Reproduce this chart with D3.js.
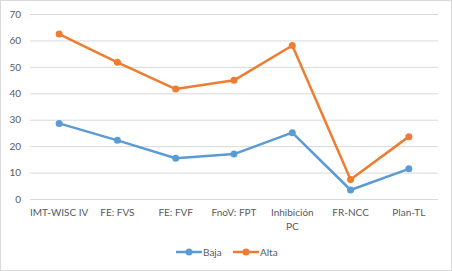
<!DOCTYPE html>
<html>
<head>
<meta charset="utf-8">
<script src="https://cdn.jsdelivr.net/npm/d3@7"></script>
<style>
  body { margin: 0; background: #fff; }
  text { font-family: Lato, "Open Sans", sans-serif; fill: #595959; }
</style>
</head>
<body>
<svg id="chart" width="452" height="271"></svg>
<script>
// categories and series
var categories = ["IMT-WISC IV", "FE: FVS", "FE: FVF", "FnoV: FPT", "Inhibición PC", "FR-NCC", "Plan-TL"];
var baja = [28.6, 22.2, 15.4, 17.0, 25.1, 3.4, 11.4];
var alta = [62.4, 51.7, 41.6, 44.9, 58.1, 7.4, 23.6];
var yTicks = [0, 10, 20, 30, 40, 50, 60, 70];
var seriesNames = ["Baja", "Alta"];
var colors = ["#5B9BD5", "#ED7D31"];

var svg = d3.select("#chart");

// outer chart border
svg.append("rect")
    .attr("x", 0.5).attr("y", 0.5)
    .attr("width", 451).attr("height", 270)
    .attr("fill", "#fff").attr("stroke", "#d9d9d9");

var x = d3.scaleBand().domain(categories).range([30, 438]);
var y = d3.scaleLinear().domain([0, 70]).range([199, 14]);

// gridlines
svg.append("g")
    .selectAll("line").data(yTicks).join("line")
    .attr("x1", 30).attr("x2", 438)
    .attr("y1", d => y(d) + 0.5).attr("y2", d => y(d) + 0.5)
    .attr("stroke", "#d9d9d9").attr("stroke-width", 1);

// y axis labels
var ya = svg.append("g")
    .attr("transform", "translate(30,0)")
    .call(d3.axisLeft(y).tickValues(yTicks).tickSize(0).tickPadding(9));
ya.select(".domain").remove();
ya.selectAll("text").attr("font-size", 10).attr("fill", "#595959")
    .style("font-family", "Lato, 'Open Sans', sans-serif");

// x axis labels, wrapped like the original
var xa = svg.append("g")
    .attr("transform", "translate(0,199)")
    .call(d3.axisBottom(x).tickSize(0).tickPadding(10));
xa.select(".domain").remove();
xa.selectAll("text").attr("font-size", 10).attr("fill", "#595959")
    .style("font-family", "Lato, 'Open Sans', sans-serif")
    .each(function(d) {
        if (d === "Inhibición PC") {
            var t = d3.select(this);
            t.text(null);
            t.append("tspan").attr("x", 0).attr("dy", "0.71em").text("Inhibición");
            t.append("tspan").attr("x", 0).attr("dy", "1.4em").text("PC");
            t.attr("dy", null);
        }
    });

var line = d3.line()
    .x((d, i) => x(categories[i]) + x.bandwidth() / 2)
    .y(d => y(d));

[baja, alta].forEach(function(vals, s) {
    var g = svg.append("g");
    g.append("path").datum(vals)
        .attr("d", line)
        .attr("fill", "none")
        .attr("stroke", colors[s])
        .attr("stroke-width", 2.5)
        .attr("stroke-linejoin", "round");
    g.selectAll("circle").data(vals).join("circle")
        .attr("cx", (d, i) => x(categories[i]) + x.bandwidth() / 2)
        .attr("cy", d => y(d))
        .attr("r", 3.5)
        .attr("fill", colors[s]);
});

// legend
var legendX = [176, 233];
seriesNames.forEach(function(name, s) {
    var lg = svg.append("g").attr("transform", "translate(" + legendX[s] + ",252)");
    lg.append("line").attr("x1", 0).attr("x2", 26)
        .attr("stroke", colors[s]).attr("stroke-width", 2.5);
    lg.append("circle").attr("cx", 13).attr("r", 3.5).attr("fill", colors[s]);
    lg.append("text").attr("x", 27).attr("y", 0).attr("dy", "0.35em")
        .attr("font-size", 10).text(name);
});
</script>
</body>
</html>
